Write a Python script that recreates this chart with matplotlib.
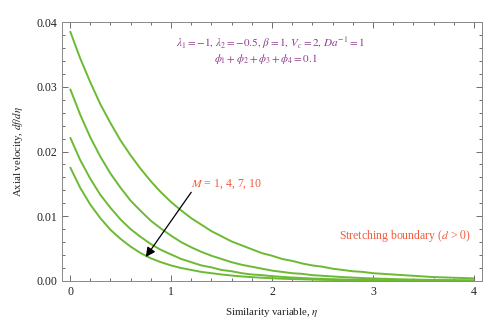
import matplotlib
matplotlib.use("Agg")
import matplotlib.pyplot as plt
from matplotlib.ticker import MultipleLocator

plt.rcParams['font.family'] = ['Liberation Serif', 'DejaVu Serif']
plt.rcParams['mathtext.fontset'] = 'stix'

eta = [0.0, 0.1, 0.2, 0.3, 0.4, 0.5, 0.6, 0.7, 0.8, 0.9,
       1.0, 1.1, 1.2, 1.3, 1.4, 1.5, 1.6, 1.7, 1.8, 1.9,
       2.0, 2.1, 2.2, 2.3, 2.4, 2.5, 2.6, 2.7, 2.8, 2.9,
       3.0, 3.1, 3.2, 3.3, 3.4, 3.5, 3.6, 3.7, 3.8, 3.9, 4.0]
vel_M1 = [0.0386, 0.0344, 0.0307, 0.0273, 0.0244, 0.0217, 0.0194, 0.0173, 0.0154, 0.0137,
          0.0122, 0.0109, 0.0097, 0.0087, 0.0077, 0.0069, 0.0061, 0.0055, 0.0049, 0.0043,
          0.0039, 0.0034, 0.0031, 0.0027, 0.0024, 0.0022, 0.0019, 0.0017, 0.0015, 0.0014,
          0.0012, 0.0011, 0.0010, 0.0009, 0.0008, 0.0007, 0.0006, 0.00055, 0.0005, 0.00045, 0.0004]
vel_M4 = [0.0297, 0.0257, 0.0222, 0.0192, 0.0166, 0.0144, 0.0124, 0.0108, 0.0093, 0.0081,
          0.0070, 0.0060, 0.0052, 0.0045, 0.0039, 0.0034, 0.0029, 0.0025, 0.0022, 0.0019,
          0.0016, 0.0014, 0.0012, 0.0011, 0.0009, 0.0008, 0.0007, 0.0006, 0.00052, 0.00045,
          0.00039, 0.00034, 0.00029, 0.00025, 0.00022, 0.00019, 0.00016, 0.00014, 0.00012, 0.00011, 0.00009]
vel_M7 = [0.0222, 0.0187, 0.0158, 0.0133, 0.0113, 0.0095, 0.0080, 0.0068, 0.0057, 0.0048,
          0.0041, 0.0034, 0.0029, 0.0024, 0.0021, 0.0017, 0.0015, 0.0012, 0.0010, 0.0009,
          0.00074, 0.00063, 0.00053, 0.00045, 0.00038, 0.00032, 0.00027, 0.00023, 0.00019, 0.00016,
          0.00014, 0.00012, 0.0001, 0.00008, 0.00007, 0.00006, 0.00005, 0.00004, 0.00004, 0.00003, 0.00003]
vel_M10 = [0.0176, 0.0144, 0.0118, 0.0097, 0.0079, 0.0065, 0.0053, 0.0043, 0.0035, 0.0029,
           0.0024, 0.0020, 0.0017, 0.0014, 0.0012, 0.0010, 0.00084, 0.00070, 0.00059, 0.00050,
           0.00042, 0.00035, 0.00029, 0.00025, 0.00021, 0.00017, 0.00015, 0.00012, 0.0001, 0.00009,
           0.00007, 0.00006, 0.00005, 0.00004, 0.00004, 0.00003, 0.00003, 0.00002, 0.00002, 0.00002, 0.00001]
series = [vel_M1, vel_M4, vel_M7, vel_M10]

xticks = [0, 1, 2, 3, 4]
yticks = [0.00, 0.01, 0.02, 0.03, 0.04]
ytick_labels = ["0.00", "0.01", "0.02", "0.03", "0.04"]

green = "#6cba34"
purple = "#8e3a8e"
orange = "#f25a3c"

fig = plt.figure(figsize=(5.0, 3.29), dpi=100)
ax = fig.add_axes([0.124, 0.146, 0.84, 0.787])

for s in series:
    ax.plot(eta, s, color=green, lw=1.4, solid_capstyle='butt', solid_joinstyle='round')

ax.set_xlim(-0.08, 4.08)
ax.set_ylim(0.0, 0.04)
ax.set_xticks(xticks)
ax.set_yticks(yticks)
ax.set_yticklabels(ytick_labels)
ax.xaxis.set_minor_locator(MultipleLocator(0.2))
ax.yaxis.set_minor_locator(MultipleLocator(0.002))
ax.tick_params(which='both', direction='in', top=True, right=True,
               labelsize=8.5, colors='#555555', labelcolor='#222222', width=0.6)
ax.tick_params(which='major', length=4)
ax.tick_params(which='minor', length=2.5)
for sp in ax.spines.values():
    sp.set_color('#888888')
    sp.set_linewidth(0.7)

ax.set_xlabel(r"Similarity variable, $\eta$", fontsize=7.8, color='#222222', labelpad=6)
ax.set_ylabel(r"Axial velocity, $df/d\eta$", fontsize=7.8, color='#222222', labelpad=8)

ax.text(1.98, 0.0367, r"$\lambda_1 = -1,\, \lambda_2 = -0.5,\, \beta = 1,\, V_c = 2,\, Da^{-1} = 1$",
        fontsize=8, color=purple, ha='center', va='center')
ax.text(1.94, 0.0343, r"$\phi_1 + \phi_2 + \phi_3 + \phi_4 = 0.1$",
        fontsize=8, color=purple, ha='center', va='center')

ax.annotate("", xy=(0.75, 0.0037), xytext=(1.20, 0.0137),
            arrowprops=dict(arrowstyle="-|>", color='black', lw=0.9,
                            mutation_scale=14, shrinkA=0, shrinkB=0))
ax.text(1.20, 0.0149, r"$M$ = 1, 4, 7, 10", fontsize=8.5, color=orange,
        ha='left', va='center')
ax.text(3.32, 0.0069, r"Stretching boundary ($d$ > $0$)", fontsize=8.5, color=orange,
        ha='center', va='center')

fig.savefig("out.png", dpi=100)
